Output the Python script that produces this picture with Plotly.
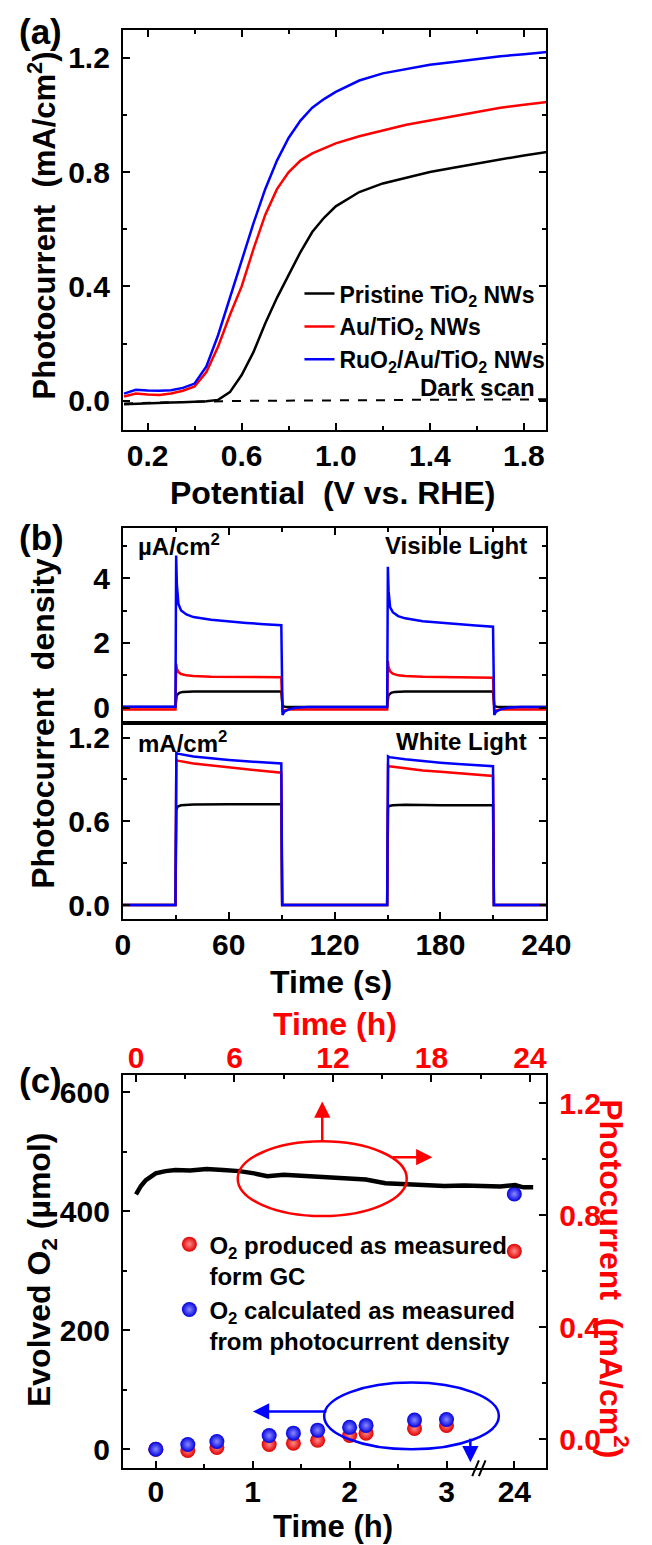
import plotly.graph_objects as go

W, H = 652, 1545
def PX(p): return p / W
def PY(p): return 1 - p / H

FONT = "Liberation Sans, Arial, sans-serif"
BLUE, RED, BLACK = "#0000ff", "#ff0000", "#000000"

# ---------------- panel (a) data ----------------
potential = [0.10,0.15,0.20,0.25,0.30,0.35,0.40,0.45,0.50,0.55,0.60,0.65,0.70,0.75,
             0.80,0.85,0.90,0.95,1.00,1.10,1.20,1.30,1.40,1.50,1.60,1.70,1.80,1.90]
j_pristine = [-0.012,-0.010,-0.008,-0.007,-0.006,-0.005,-0.004,-0.002,0.003,0.030,0.090,0.170,0.270,0.360,
              0.440,0.520,0.590,0.640,0.680,0.730,0.760,0.780,0.800,0.815,0.830,0.845,0.858,0.870]
j_au = [0.015,0.025,0.022,0.020,0.025,0.035,0.050,0.100,0.190,0.300,0.400,0.530,0.650,0.740,
        0.800,0.840,0.865,0.882,0.900,0.925,0.945,0.965,0.980,0.995,1.010,1.025,1.035,1.045]
j_ruo2 = [0.025,0.038,0.036,0.035,0.037,0.045,0.060,0.120,0.230,0.360,0.490,0.620,0.740,0.840,
          0.920,0.980,1.025,1.055,1.080,1.120,1.145,1.160,1.175,1.185,1.195,1.205,1.212,1.220]
j_dark = [-0.010,-0.008,-0.007,-0.006,-0.005,-0.004,-0.003,-0.002,-0.001,0.0,0.0,0.0,0.0,0.0,
          0.001,0.001,0.001,0.001,0.002,0.002,0.002,0.003,0.003,0.003,0.004,0.004,0.005,0.005]
names_a = ["Pristine TiO<sub>2</sub> NWs", "Au/TiO<sub>2</sub> NWs", "RuO<sub>2</sub>/Au/TiO<sub>2</sub> NWs"]

# ---------------- panel (b) data ----------------
t_vis = [0,29.8,30.2,30.6,31.5,33,36,40,50,60,70,80,89.8,90.5,91.5,94,98,105,120,
         149.8,150.2,150.6,151.5,153,156,160,170,180,190,200,209.8,210.5,211.5,214,218,225,240]
vis_ruo2 = [0.03,0.03,4.70,3.80,3.20,3.00,2.88,2.80,2.72,2.66,2.62,2.58,2.55,-0.22,-0.12,-0.05,0.0,0.02,0.02,
            0.02,4.35,3.60,3.10,2.95,2.83,2.76,2.67,2.62,2.58,2.54,2.50,-0.22,-0.12,-0.05,0.0,0.02,0.02]
vis_au = [-0.05,-0.05,1.35,1.20,1.10,1.04,1.00,0.98,0.96,0.95,0.95,0.94,0.94,-0.12,-0.08,-0.05,-0.05,-0.05,-0.05,
          -0.05,1.45,1.25,1.12,1.05,1.00,0.98,0.96,0.95,0.95,0.94,0.93,-0.12,-0.08,-0.05,-0.05,-0.05,-0.05]
t_vis_p = [0,29.8,30.5,32,34,40,60,89.8,90.5,92,95,120,149.8,150.5,152,154,160,180,209.8,210.5,212,215,240]
vis_pristine = [0.02,0.02,0.38,0.46,0.49,0.50,0.50,0.50,0.05,0.03,0.02,0.02,0.02,0.38,0.46,0.49,0.50,0.50,0.50,
                0.05,0.03,0.02,0.02]

t_wht = [0,29.8,30.3,31,40,50,60,70,80,89.8,90.3,149.8,150.3,151,160,170,180,190,200,209.8,210.3,240]
wht_ruo2 = [0,0,1.090,1.085,1.065,1.050,1.040,1.030,1.022,1.015,0,0,1.065,1.060,1.045,1.030,1.020,1.010,1.003,0.995,0,0]
wht_au = [0,0,1.040,1.035,1.015,1.000,0.985,0.970,0.960,0.948,0,0,1.000,0.995,0.980,0.965,0.955,0.945,0.935,0.925,0,0]
t_wht_p = [0,29.8,30.3,31,33,40,60,89.8,90.3,149.8,150.3,151,153,160,180,209.8,210.3,240]
wht_pristine = [0,0,0.680,0.705,0.715,0.720,0.722,0.722,0,0,0.700,0.710,0.715,0.718,0.716,0.715,0,0]

# ---------------- panel (c) data ----------------
t_long = [0,0.3,0.6,0.9,1.2,1.8,2.4,3.3,4.3,5.3,6.3,7.2,8.0,9.0,10.3,11.5,12.8,14.0,15.2,16.4,17.6,18.8,
          20.0,21.2,22.2,23.1,23.6,24.2]
j_long = [0.875,0.905,0.926,0.940,0.950,0.958,0.962,0.960,0.966,0.962,0.958,0.950,0.940,0.945,0.940,0.938,
          0.933,0.928,0.915,0.912,0.910,0.905,0.907,0.905,0.903,0.908,0.900,0.900]
t_pts = [0,0.33,0.63,1.17,1.42,1.67,2.0,2.17,2.67,3.0,24]
o2_gc = [0,-2,3,8,10,15,23,27,35,40,333]
o2_calc = [0,8,13,23,27,32,37,40,49,50,429]
BREAK_POS = 3.70           # axis position where the "24 h" point sits after the axis break
def broken(t): return t if t <= 3.5 else BREAK_POS + (t - 24) * 0.05
x_pts = [broken(t) for t in t_pts]

fig = go.Figure()

# (a)
for yv, nm, col in zip([j_pristine, j_au, j_ruo2], names_a, [BLACK, RED, BLUE]):
    fig.add_trace(go.Scatter(x=potential, y=yv, name=nm, mode="lines", line=dict(color=col, width=2.5),
                             xaxis="x", yaxis="y", legend="legend"))
fig.add_trace(go.Scatter(x=potential, y=j_dark, mode="lines", showlegend=False,
                         line=dict(color=BLACK, width=2, dash="dash"), xaxis="x", yaxis="y"))

# (b) visible (top)
fig.add_trace(go.Scatter(x=t_vis_p, y=vis_pristine, mode="lines", line=dict(color=BLACK, width=2.5),
                         showlegend=False, xaxis="x3", yaxis="y3"))
fig.add_trace(go.Scatter(x=t_vis, y=vis_au, mode="lines", line=dict(color=RED, width=2.5),
                         showlegend=False, xaxis="x3", yaxis="y3"))
fig.add_trace(go.Scatter(x=t_vis, y=vis_ruo2, mode="lines", line=dict(color=BLUE, width=2.5),
                         showlegend=False, xaxis="x3", yaxis="y3"))
# (b) white (bottom)
fig.add_trace(go.Scatter(x=t_wht_p, y=wht_pristine, mode="lines", line=dict(color=BLACK, width=2.5),
                         showlegend=False, xaxis="x2", yaxis="y2"))
fig.add_trace(go.Scatter(x=t_wht, y=wht_au, mode="lines", line=dict(color=RED, width=2.5),
                         showlegend=False, xaxis="x2", yaxis="y2"))
fig.add_trace(go.Scatter(x=t_wht, y=wht_ruo2, mode="lines", line=dict(color=BLUE, width=2.5),
                         showlegend=False, xaxis="x2", yaxis="y2"))

# (c)
fig.add_trace(go.Scatter(x=t_long, y=j_long, mode="lines", line=dict(color=BLACK, width=4.5),
                         showlegend=False, xaxis="x5", yaxis="y5"))
fig.add_trace(go.Scatter(x=x_pts, y=o2_gc, mode="markers", name="O<sub>2</sub> produced as measured<br>form GC",
                         marker=dict(size=15, color="#e00000", gradient=dict(type="radial", color="#ff8a8a")),
                         xaxis="x4", yaxis="y4", legend="legend2"))
fig.add_trace(go.Scatter(x=x_pts, y=o2_calc, mode="markers",
                         name="O<sub>2</sub> calculated as measured<br>from photocurrent density",
                         marker=dict(size=15, color="#0000e0", gradient=dict(type="radial", color="#8a8aff")),
                         xaxis="x4", yaxis="y4", legend="legend2"))

XD = [PX(121), PX(567)]
tf = dict(family=FONT, size=30, color=BLACK, weight="bold")
tfr = dict(family=FONT, size=30, color=RED, weight="bold")
minor = dict(ticks="inside", ticklen=4, tickwidth=2, tickcolor=BLACK)
common = dict(showline=True, linewidth=2, linecolor=BLACK, ticks="inside", ticklen=7, tickwidth=2,
              tickcolor=BLACK, showgrid=False, zeroline=False, tickfont=tf, ticklabelstandoff=5)
xcommon = {**common, "ticklabelstandoff": -2}

fig.update_layout(
    width=W, height=H, margin=dict(l=0, r=0, t=0, b=0),
    plot_bgcolor="white", paper_bgcolor="white",
    font=dict(family=FONT, size=24, color=BLACK, weight="bold"),
    xaxis=dict(domain=XD, anchor="y", range=[0.095, 1.895], tick0=0.2, dtick=0.4, tickformat=".1f",
               mirror="ticks", minor=dict(dtick=0.2, **minor), **xcommon),
    yaxis=dict(domain=[PY(429), PY(28)], anchor="x", range=[-0.101, 1.297], tick0=0, dtick=0.4,
               tickformat=".1f", mirror="ticks", minor=dict(dtick=0.2, **minor), **common),
    xaxis2=dict(domain=XD, anchor="y2", range=[0, 240], tick0=0, dtick=60, mirror=True,
                minor=dict(dtick=30, **minor), **xcommon),
    yaxis2=dict(domain=[PY(920), PY(723)], anchor="x2", range=[-0.1, 1.307], tick0=0, dtick=0.6,
                tickformat=".1f", mirror="ticks", minor=dict(dtick=0.3, **minor), **common),
    xaxis3=dict(domain=XD, anchor="y3", range=[0, 240], tick0=0, dtick=60, side="top", mirror=True,
                showticklabels=False, minor=dict(dtick=30, **minor), **common),
    yaxis3=dict(domain=[PY(723), PY(528)], anchor="x3", range=[-0.46, 5.54], tick0=0, dtick=2,
                mirror="ticks", minor=dict(dtick=1, **minor), **common),
    xaxis4=dict(domain=XD, anchor="y4", range=[-0.34, 4.03], tickmode="array",
                tickvals=[0, 1, 2, 3, BREAK_POS], ticktext=["0", "1", "2", "3", "24"],
                minor=dict(tickmode="array", tickvals=[0.5, 1.5, 2.5], **minor),
                **{**xcommon, "ticklabelstandoff": -4}),
    yaxis4=dict(domain=[PY(1471), PY(1076)], anchor="x4", range=[-32, 630], tick0=0, dtick=200,
                minor=dict(dtick=100, **minor), **common),
    xaxis5=dict(overlaying="x4", anchor="y4", side="top", range=[-0.8, 25], tick0=0, dtick=6,
                minor=dict(dtick=3, **minor), **{**common, "tickfont": tfr, "ticklabelstandoff": -7}),
    yaxis5=dict(overlaying="y4", anchor="x4", side="right", range=[-0.103, 1.303], tick0=0, dtick=0.4,
                tickformat=".1f", minor=dict(dtick=0.2, **minor), **{**common, "tickfont": tfr}),
    legend=dict(x=PX(307), y=PY(271), xanchor="left", yanchor="top", bgcolor="rgba(0,0,0,0)",
                font=dict(family=FONT, size=23, color=BLACK, weight="bold"), tracegroupgap=0),
    legend2=dict(x=PX(170), y=PY(1224), xanchor="left", yanchor="top", bgcolor="rgba(0,0,0,0)",
                 valign="top", font=dict(family=FONT, size=24, color=BLACK, weight="bold"), tracegroupgap=6),
)

def ann(text, x, y, size=24, xanchor="center", yanchor="middle", color=BLACK, angle=0):
    fig.add_annotation(text=text, x=PX(x), y=PY(y), xref="paper", yref="paper", showarrow=False,
                       xanchor=xanchor, yanchor=yanchor, textangle=angle,
                       font=dict(family=FONT, size=size, color=color, weight="bold"))

ann("(a)", 10, 30, size=35, xanchor="left")
ann("(b)", 10, 537, size=35, xanchor="left")
ann("(c)", 10, 1082, size=35, xanchor="left")
ann("Photocurrent\u00a0 (mA/cm<sup>2</sup>)", 36, 224, size=31, angle=-90)
ann("Potential\u00a0 (V vs. RHE)", 342, 493, size=32)
ann("Dark scan", 557, 387, xanchor="right")
ann("Photocurrent\u00a0 density", 36, 724, size=32, angle=-90)
ann("µA/cm<sup>2</sup>", 135, 545, xanchor="left")
ann("Visible Light", 549, 545, xanchor="right")
ann("mA/cm<sup>2</sup>", 135, 742, xanchor="left")
ann("White Light", 549, 742, xanchor="right")
ann("Time (s)", 340, 983, size=32)
ann("Time (h)", 344, 1025, size=32, color=RED)
ann("Time (h)", 342, 1529, size=31)
ann("Evolved O<sub>2</sub> (µmol)", 36, 1272, size=32, angle=-90)
ann("Photocurrent\u00a0 (mA/cm<sup>2</sup>)", 638, 1281, size=32, color=RED, angle=90)

# ellipses and arrows in panel (c)
fig.add_shape(type="circle", xref="paper", yref="paper", x0=PX(242), x1=PX(420), y0=PY(1218), y1=PY(1143),
              line=dict(color=RED, width=2.5))
fig.add_shape(type="circle", xref="paper", yref="paper", x0=PX(333), x1=PX(517), y0=PY(1452), y1=PY(1385),
              line=dict(color=BLUE, width=2.5))
def arrow(x, y, ax, ay, col):
    fig.add_annotation(x=PX(x), y=PY(y), xref="paper", yref="paper", ax=ax, ay=ay, axref="pixel",
                       ayref="pixel", showarrow=True, arrowhead=2, arrowsize=1.3, arrowwidth=2.5,
                       arrowcolor=col, text="")
arrow(331, 1103, 0, 40, RED)
arrow(447, 1159, -41, 0, RED)
arrow(258, 1414, 75, 0, BLUE)
arrow(487, 1465, 0, -25, BLUE)

# axis break marks
for dx in (0, 7):
    fig.add_shape(type="line", xref="paper", yref="paper", x0=PX(489 + dx), y0=PY(1479),
                  x1=PX(496 + dx), y1=PY(1463), line=dict(color=BLACK, width=2))

fig.write_html("out.html", config={"displayModeBar": False},
               post_script="document.body.style.margin='0';document.body.style.overflow='hidden';")
